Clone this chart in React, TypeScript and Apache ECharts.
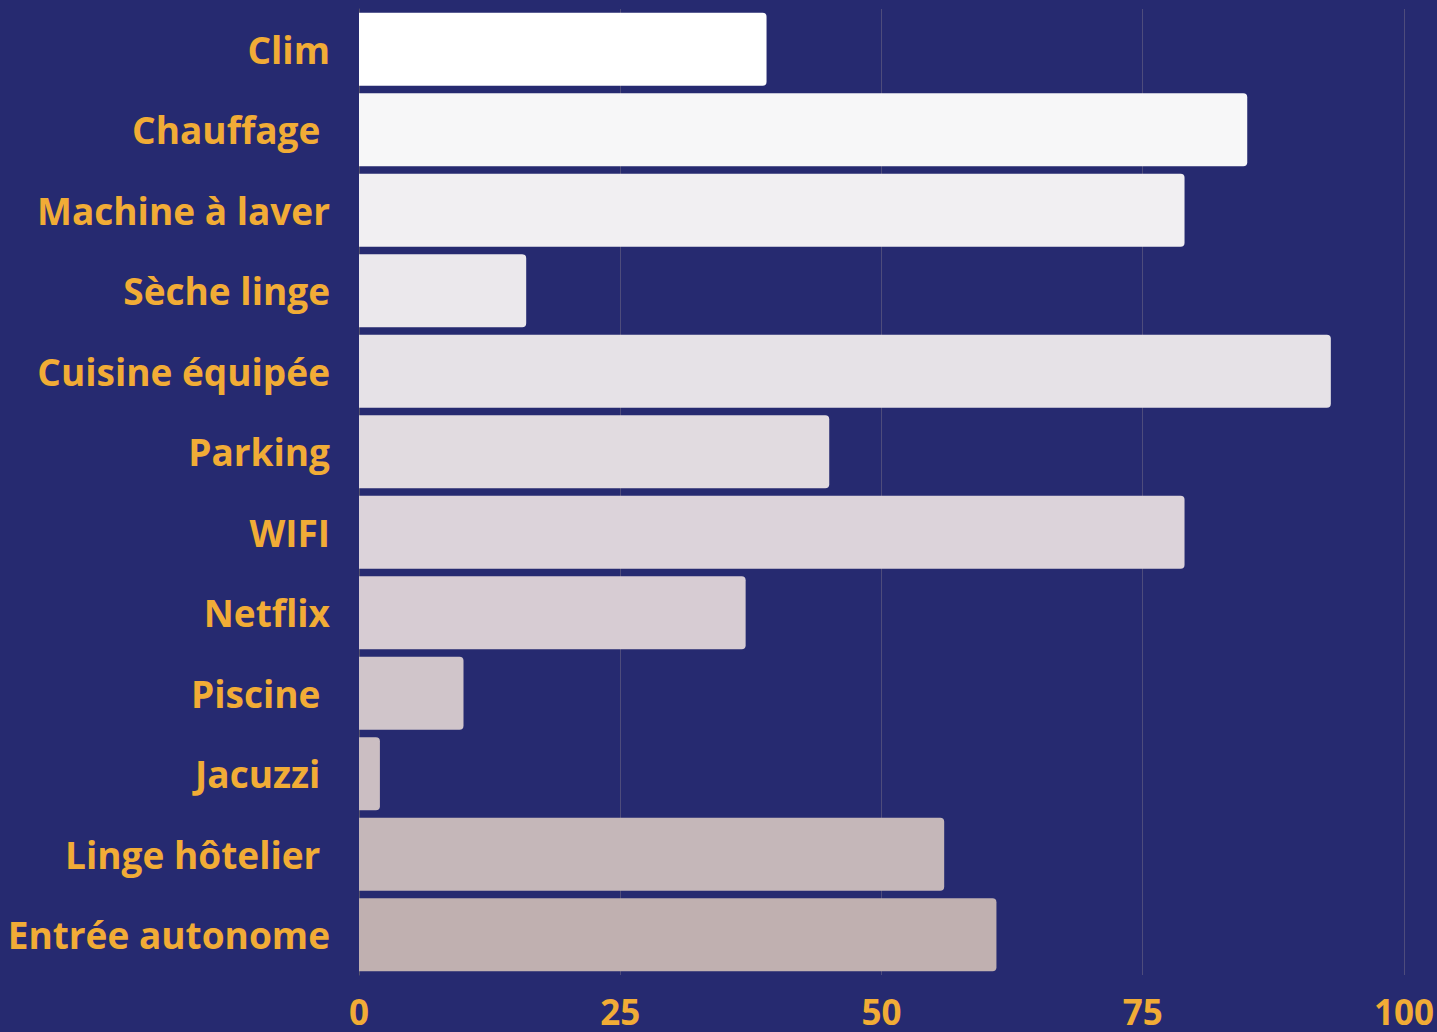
import React, { useEffect, useRef } from "react";
import * as echarts from "echarts";

const categories = [
  "Clim",
  "Chauffage ",
  "Machine à laver",
  "Sèche linge",
  "Cuisine équipée",
  "Parking",
  "WIFI",
  "Netflix",
  "Piscine ",
  "Jacuzzi ",
  "Linge hôtelier ",
  "Entrée autonome",
];
const values = [39, 85, 79, 16, 93, 45, 79, 37, 10, 2, 56, 61];
const barColors = [
  "#ffffff",
  "#f7f7f8",
  "#f1eff2",
  "#ebe8ec",
  "#e6e2e7",
  "#e1dbe0",
  "#dcd3da",
  "#d7ccd3",
  "#d0c5ca",
  "#cbbec2",
  "#c5b7b9",
  "#c0b0b0",
];
const xTicks = [0, 25, 50, 75, 100];

export default function App() {
  const ref = useRef<HTMLDivElement>(null);
  useEffect(() => {
    document.body.style.margin = "0";
    document.body.style.background = "#262a70";
    const chart = echarts.init(ref.current!, null, { renderer: "svg" });
    chart.setOption({
      animation: false,
      backgroundColor: "#262a70",
      grid: { left: 359, right: 30, top: 9, bottom: 57, containLabel: false },
      xAxis: {
        type: "value",
        min: xTicks[0],
        max: xTicks[xTicks.length - 1],
        interval: 25,
        axisLine: { show: false },
        axisTick: { show: false },
        splitLine: { show: true, lineStyle: { color: "#4e4c7c", width: 1 } },
        axisLabel: {
          color: "#f1ac36",
          fontFamily: "Open Sans",
          fontWeight: "bold",
          fontSize: 35,
          lineHeight: 32,
          margin: 20,
        },
      },
      yAxis: {
        type: "category",
        data: categories,
        inverse: true,
        axisLine: { show: true, lineStyle: { color: "#55536e", width: 1 } },
        axisTick: { show: false },
        axisLabel: {
          color: "#f1ac36",
          fontFamily: "Open Sans",
          fontWeight: "bold",
          fontSize: 37,
          margin: 29,
        },
      },
      series: [
        {
          type: "bar",
          barCategoryGap: "9.5%",
          data: values.map((v, i) => ({
            value: v,
            itemStyle: { color: barColors[i], borderRadius: [0, 4, 4, 0] },
          })),
        },
      ],
    });
    return () => chart.dispose();
  }, []);
  return <div ref={ref} style={{ width: 1437, height: 1032 }} />;
}
